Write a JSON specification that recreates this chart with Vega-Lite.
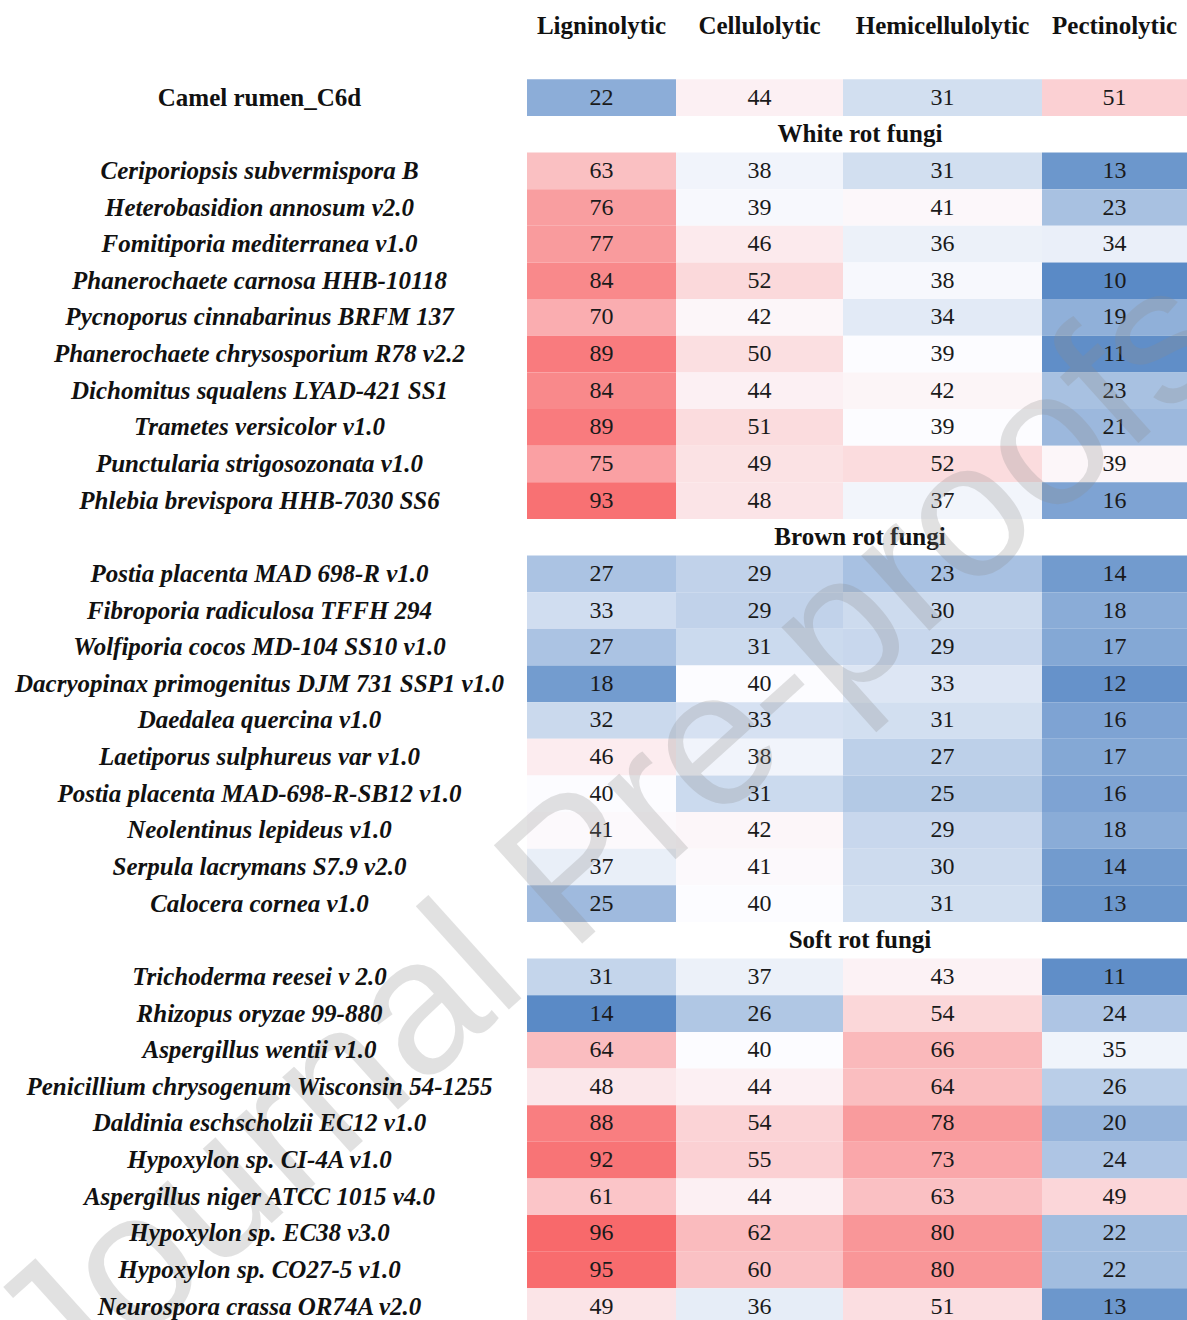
{
  "$schema": "https://vega.github.io/schema/vega-lite/v6.json",
  "autosize": {"type": "none"},
  "padding": {"left": 527, "top": 6, "right": 0, "bottom": 0},
  "width": 660,
  "height": 1319,
  "background": "white",
  "config": {"view": {"stroke": null}, "font": "Liberation Serif"},
  "datasets": {
    "cells": [
      {"name": "Camel rumen_C6d", "group": "Reference", "activity": "Ligninolytic", "value": 22},
      {"name": "Camel rumen_C6d", "group": "Reference", "activity": "Cellulolytic", "value": 44},
      {"name": "Camel rumen_C6d", "group": "Reference", "activity": "Hemicellulolytic", "value": 31},
      {"name": "Camel rumen_C6d", "group": "Reference", "activity": "Pectinolytic", "value": 51},

      {"name": "Ceriporiopsis subvermispora B", "group": "White rot fungi", "activity": "Ligninolytic", "value": 63},
      {"name": "Ceriporiopsis subvermispora B", "group": "White rot fungi", "activity": "Cellulolytic", "value": 38},
      {"name": "Ceriporiopsis subvermispora B", "group": "White rot fungi", "activity": "Hemicellulolytic", "value": 31},
      {"name": "Ceriporiopsis subvermispora B", "group": "White rot fungi", "activity": "Pectinolytic", "value": 13},
      {"name": "Heterobasidion annosum v2.0", "group": "White rot fungi", "activity": "Ligninolytic", "value": 76},
      {"name": "Heterobasidion annosum v2.0", "group": "White rot fungi", "activity": "Cellulolytic", "value": 39},
      {"name": "Heterobasidion annosum v2.0", "group": "White rot fungi", "activity": "Hemicellulolytic", "value": 41},
      {"name": "Heterobasidion annosum v2.0", "group": "White rot fungi", "activity": "Pectinolytic", "value": 23},
      {"name": "Fomitiporia mediterranea v1.0", "group": "White rot fungi", "activity": "Ligninolytic", "value": 77},
      {"name": "Fomitiporia mediterranea v1.0", "group": "White rot fungi", "activity": "Cellulolytic", "value": 46},
      {"name": "Fomitiporia mediterranea v1.0", "group": "White rot fungi", "activity": "Hemicellulolytic", "value": 36},
      {"name": "Fomitiporia mediterranea v1.0", "group": "White rot fungi", "activity": "Pectinolytic", "value": 34},
      {"name": "Phanerochaete carnosa HHB-10118", "group": "White rot fungi", "activity": "Ligninolytic", "value": 84},
      {"name": "Phanerochaete carnosa HHB-10118", "group": "White rot fungi", "activity": "Cellulolytic", "value": 52},
      {"name": "Phanerochaete carnosa HHB-10118", "group": "White rot fungi", "activity": "Hemicellulolytic", "value": 38},
      {"name": "Phanerochaete carnosa HHB-10118", "group": "White rot fungi", "activity": "Pectinolytic", "value": 10},
      {"name": "Pycnoporus cinnabarinus BRFM 137", "group": "White rot fungi", "activity": "Ligninolytic", "value": 70},
      {"name": "Pycnoporus cinnabarinus BRFM 137", "group": "White rot fungi", "activity": "Cellulolytic", "value": 42},
      {"name": "Pycnoporus cinnabarinus BRFM 137", "group": "White rot fungi", "activity": "Hemicellulolytic", "value": 34},
      {"name": "Pycnoporus cinnabarinus BRFM 137", "group": "White rot fungi", "activity": "Pectinolytic", "value": 19},
      {"name": "Phanerochaete chrysosporium R78 v2.2", "group": "White rot fungi", "activity": "Ligninolytic", "value": 89},
      {"name": "Phanerochaete chrysosporium R78 v2.2", "group": "White rot fungi", "activity": "Cellulolytic", "value": 50},
      {"name": "Phanerochaete chrysosporium R78 v2.2", "group": "White rot fungi", "activity": "Hemicellulolytic", "value": 39},
      {"name": "Phanerochaete chrysosporium R78 v2.2", "group": "White rot fungi", "activity": "Pectinolytic", "value": 11},
      {"name": "Dichomitus squalens LYAD-421 SS1", "group": "White rot fungi", "activity": "Ligninolytic", "value": 84},
      {"name": "Dichomitus squalens LYAD-421 SS1", "group": "White rot fungi", "activity": "Cellulolytic", "value": 44},
      {"name": "Dichomitus squalens LYAD-421 SS1", "group": "White rot fungi", "activity": "Hemicellulolytic", "value": 42},
      {"name": "Dichomitus squalens LYAD-421 SS1", "group": "White rot fungi", "activity": "Pectinolytic", "value": 23},
      {"name": "Trametes versicolor v1.0", "group": "White rot fungi", "activity": "Ligninolytic", "value": 89},
      {"name": "Trametes versicolor v1.0", "group": "White rot fungi", "activity": "Cellulolytic", "value": 51},
      {"name": "Trametes versicolor v1.0", "group": "White rot fungi", "activity": "Hemicellulolytic", "value": 39},
      {"name": "Trametes versicolor v1.0", "group": "White rot fungi", "activity": "Pectinolytic", "value": 21},
      {"name": "Punctularia strigosozonata v1.0", "group": "White rot fungi", "activity": "Ligninolytic", "value": 75},
      {"name": "Punctularia strigosozonata v1.0", "group": "White rot fungi", "activity": "Cellulolytic", "value": 49},
      {"name": "Punctularia strigosozonata v1.0", "group": "White rot fungi", "activity": "Hemicellulolytic", "value": 52},
      {"name": "Punctularia strigosozonata v1.0", "group": "White rot fungi", "activity": "Pectinolytic", "value": 39},
      {"name": "Phlebia brevispora HHB-7030 SS6", "group": "White rot fungi", "activity": "Ligninolytic", "value": 93},
      {"name": "Phlebia brevispora HHB-7030 SS6", "group": "White rot fungi", "activity": "Cellulolytic", "value": 48},
      {"name": "Phlebia brevispora HHB-7030 SS6", "group": "White rot fungi", "activity": "Hemicellulolytic", "value": 37},
      {"name": "Phlebia brevispora HHB-7030 SS6", "group": "White rot fungi", "activity": "Pectinolytic", "value": 16},

      {"name": "Postia placenta MAD 698-R v1.0", "group": "Brown rot fungi", "activity": "Ligninolytic", "value": 27},
      {"name": "Postia placenta MAD 698-R v1.0", "group": "Brown rot fungi", "activity": "Cellulolytic", "value": 29},
      {"name": "Postia placenta MAD 698-R v1.0", "group": "Brown rot fungi", "activity": "Hemicellulolytic", "value": 23},
      {"name": "Postia placenta MAD 698-R v1.0", "group": "Brown rot fungi", "activity": "Pectinolytic", "value": 14},
      {"name": "Fibroporia radiculosa TFFH 294", "group": "Brown rot fungi", "activity": "Ligninolytic", "value": 33},
      {"name": "Fibroporia radiculosa TFFH 294", "group": "Brown rot fungi", "activity": "Cellulolytic", "value": 29},
      {"name": "Fibroporia radiculosa TFFH 294", "group": "Brown rot fungi", "activity": "Hemicellulolytic", "value": 30},
      {"name": "Fibroporia radiculosa TFFH 294", "group": "Brown rot fungi", "activity": "Pectinolytic", "value": 18},
      {"name": "Wolfiporia cocos MD-104 SS10 v1.0", "group": "Brown rot fungi", "activity": "Ligninolytic", "value": 27},
      {"name": "Wolfiporia cocos MD-104 SS10 v1.0", "group": "Brown rot fungi", "activity": "Cellulolytic", "value": 31},
      {"name": "Wolfiporia cocos MD-104 SS10 v1.0", "group": "Brown rot fungi", "activity": "Hemicellulolytic", "value": 29},
      {"name": "Wolfiporia cocos MD-104 SS10 v1.0", "group": "Brown rot fungi", "activity": "Pectinolytic", "value": 17},
      {"name": "Dacryopinax primogenitus DJM 731 SSP1 v1.0", "group": "Brown rot fungi", "activity": "Ligninolytic", "value": 18},
      {"name": "Dacryopinax primogenitus DJM 731 SSP1 v1.0", "group": "Brown rot fungi", "activity": "Cellulolytic", "value": 40},
      {"name": "Dacryopinax primogenitus DJM 731 SSP1 v1.0", "group": "Brown rot fungi", "activity": "Hemicellulolytic", "value": 33},
      {"name": "Dacryopinax primogenitus DJM 731 SSP1 v1.0", "group": "Brown rot fungi", "activity": "Pectinolytic", "value": 12},
      {"name": "Daedalea quercina v1.0", "group": "Brown rot fungi", "activity": "Ligninolytic", "value": 32},
      {"name": "Daedalea quercina v1.0", "group": "Brown rot fungi", "activity": "Cellulolytic", "value": 33},
      {"name": "Daedalea quercina v1.0", "group": "Brown rot fungi", "activity": "Hemicellulolytic", "value": 31},
      {"name": "Daedalea quercina v1.0", "group": "Brown rot fungi", "activity": "Pectinolytic", "value": 16},
      {"name": "Laetiporus sulphureus var v1.0", "group": "Brown rot fungi", "activity": "Ligninolytic", "value": 46},
      {"name": "Laetiporus sulphureus var v1.0", "group": "Brown rot fungi", "activity": "Cellulolytic", "value": 38},
      {"name": "Laetiporus sulphureus var v1.0", "group": "Brown rot fungi", "activity": "Hemicellulolytic", "value": 27},
      {"name": "Laetiporus sulphureus var v1.0", "group": "Brown rot fungi", "activity": "Pectinolytic", "value": 17},
      {"name": "Postia placenta MAD-698-R-SB12 v1.0", "group": "Brown rot fungi", "activity": "Ligninolytic", "value": 40},
      {"name": "Postia placenta MAD-698-R-SB12 v1.0", "group": "Brown rot fungi", "activity": "Cellulolytic", "value": 31},
      {"name": "Postia placenta MAD-698-R-SB12 v1.0", "group": "Brown rot fungi", "activity": "Hemicellulolytic", "value": 25},
      {"name": "Postia placenta MAD-698-R-SB12 v1.0", "group": "Brown rot fungi", "activity": "Pectinolytic", "value": 16},
      {"name": "Neolentinus lepideus v1.0", "group": "Brown rot fungi", "activity": "Ligninolytic", "value": 41},
      {"name": "Neolentinus lepideus v1.0", "group": "Brown rot fungi", "activity": "Cellulolytic", "value": 42},
      {"name": "Neolentinus lepideus v1.0", "group": "Brown rot fungi", "activity": "Hemicellulolytic", "value": 29},
      {"name": "Neolentinus lepideus v1.0", "group": "Brown rot fungi", "activity": "Pectinolytic", "value": 18},
      {"name": "Serpula lacrymans S7.9 v2.0", "group": "Brown rot fungi", "activity": "Ligninolytic", "value": 37},
      {"name": "Serpula lacrymans S7.9 v2.0", "group": "Brown rot fungi", "activity": "Cellulolytic", "value": 41},
      {"name": "Serpula lacrymans S7.9 v2.0", "group": "Brown rot fungi", "activity": "Hemicellulolytic", "value": 30},
      {"name": "Serpula lacrymans S7.9 v2.0", "group": "Brown rot fungi", "activity": "Pectinolytic", "value": 14},
      {"name": "Calocera cornea v1.0", "group": "Brown rot fungi", "activity": "Ligninolytic", "value": 25},
      {"name": "Calocera cornea v1.0", "group": "Brown rot fungi", "activity": "Cellulolytic", "value": 40},
      {"name": "Calocera cornea v1.0", "group": "Brown rot fungi", "activity": "Hemicellulolytic", "value": 31},
      {"name": "Calocera cornea v1.0", "group": "Brown rot fungi", "activity": "Pectinolytic", "value": 13},

      {"name": "Trichoderma reesei v 2.0", "group": "Soft rot fungi", "activity": "Ligninolytic", "value": 31},
      {"name": "Trichoderma reesei v 2.0", "group": "Soft rot fungi", "activity": "Cellulolytic", "value": 37},
      {"name": "Trichoderma reesei v 2.0", "group": "Soft rot fungi", "activity": "Hemicellulolytic", "value": 43},
      {"name": "Trichoderma reesei v 2.0", "group": "Soft rot fungi", "activity": "Pectinolytic", "value": 11},
      {"name": "Rhizopus oryzae 99-880", "group": "Soft rot fungi", "activity": "Ligninolytic", "value": 14},
      {"name": "Rhizopus oryzae 99-880", "group": "Soft rot fungi", "activity": "Cellulolytic", "value": 26},
      {"name": "Rhizopus oryzae 99-880", "group": "Soft rot fungi", "activity": "Hemicellulolytic", "value": 54},
      {"name": "Rhizopus oryzae 99-880", "group": "Soft rot fungi", "activity": "Pectinolytic", "value": 24},
      {"name": "Aspergillus wentii v1.0", "group": "Soft rot fungi", "activity": "Ligninolytic", "value": 64},
      {"name": "Aspergillus wentii v1.0", "group": "Soft rot fungi", "activity": "Cellulolytic", "value": 40},
      {"name": "Aspergillus wentii v1.0", "group": "Soft rot fungi", "activity": "Hemicellulolytic", "value": 66},
      {"name": "Aspergillus wentii v1.0", "group": "Soft rot fungi", "activity": "Pectinolytic", "value": 35},
      {"name": "Penicillium chrysogenum Wisconsin 54-1255", "group": "Soft rot fungi", "activity": "Ligninolytic", "value": 48},
      {"name": "Penicillium chrysogenum Wisconsin 54-1255", "group": "Soft rot fungi", "activity": "Cellulolytic", "value": 44},
      {"name": "Penicillium chrysogenum Wisconsin 54-1255", "group": "Soft rot fungi", "activity": "Hemicellulolytic", "value": 64},
      {"name": "Penicillium chrysogenum Wisconsin 54-1255", "group": "Soft rot fungi", "activity": "Pectinolytic", "value": 26},
      {"name": "Daldinia eschscholzii EC12 v1.0", "group": "Soft rot fungi", "activity": "Ligninolytic", "value": 88},
      {"name": "Daldinia eschscholzii EC12 v1.0", "group": "Soft rot fungi", "activity": "Cellulolytic", "value": 54},
      {"name": "Daldinia eschscholzii EC12 v1.0", "group": "Soft rot fungi", "activity": "Hemicellulolytic", "value": 78},
      {"name": "Daldinia eschscholzii EC12 v1.0", "group": "Soft rot fungi", "activity": "Pectinolytic", "value": 20},
      {"name": "Hypoxylon sp. CI-4A v1.0", "group": "Soft rot fungi", "activity": "Ligninolytic", "value": 92},
      {"name": "Hypoxylon sp. CI-4A v1.0", "group": "Soft rot fungi", "activity": "Cellulolytic", "value": 55},
      {"name": "Hypoxylon sp. CI-4A v1.0", "group": "Soft rot fungi", "activity": "Hemicellulolytic", "value": 73},
      {"name": "Hypoxylon sp. CI-4A v1.0", "group": "Soft rot fungi", "activity": "Pectinolytic", "value": 24},
      {"name": "Aspergillus niger ATCC 1015 v4.0", "group": "Soft rot fungi", "activity": "Ligninolytic", "value": 61},
      {"name": "Aspergillus niger ATCC 1015 v4.0", "group": "Soft rot fungi", "activity": "Cellulolytic", "value": 44},
      {"name": "Aspergillus niger ATCC 1015 v4.0", "group": "Soft rot fungi", "activity": "Hemicellulolytic", "value": 63},
      {"name": "Aspergillus niger ATCC 1015 v4.0", "group": "Soft rot fungi", "activity": "Pectinolytic", "value": 49},
      {"name": "Hypoxylon sp. EC38 v3.0", "group": "Soft rot fungi", "activity": "Ligninolytic", "value": 96},
      {"name": "Hypoxylon sp. EC38 v3.0", "group": "Soft rot fungi", "activity": "Cellulolytic", "value": 62},
      {"name": "Hypoxylon sp. EC38 v3.0", "group": "Soft rot fungi", "activity": "Hemicellulolytic", "value": 80},
      {"name": "Hypoxylon sp. EC38 v3.0", "group": "Soft rot fungi", "activity": "Pectinolytic", "value": 22},
      {"name": "Hypoxylon sp. CO27-5 v1.0", "group": "Soft rot fungi", "activity": "Ligninolytic", "value": 95},
      {"name": "Hypoxylon sp. CO27-5 v1.0", "group": "Soft rot fungi", "activity": "Cellulolytic", "value": 60},
      {"name": "Hypoxylon sp. CO27-5 v1.0", "group": "Soft rot fungi", "activity": "Hemicellulolytic", "value": 80},
      {"name": "Hypoxylon sp. CO27-5 v1.0", "group": "Soft rot fungi", "activity": "Pectinolytic", "value": 22},
      {"name": "Neurospora crassa OR74A v2.0", "group": "Soft rot fungi", "activity": "Ligninolytic", "value": 49},
      {"name": "Neurospora crassa OR74A v2.0", "group": "Soft rot fungi", "activity": "Cellulolytic", "value": 36},
      {"name": "Neurospora crassa OR74A v2.0", "group": "Soft rot fungi", "activity": "Hemicellulolytic", "value": 51},
      {"name": "Neurospora crassa OR74A v2.0", "group": "Soft rot fungi", "activity": "Pectinolytic", "value": 13}
    ],
    "sections": [
      {"name": "White rot fungi"},
      {"name": "Brown rot fungi"},
      {"name": "Soft rot fungi"}
    ]
  },
  "data": {"name": "cells"},
  "encoding": {
    "y": {
      "field": "name",
      "type": "nominal",
      "scale": {
        "domain": [
          "Enzyme class", "spacer", "Camel rumen_C6d",
          "White rot fungi",
          "Ceriporiopsis subvermispora B", "Heterobasidion annosum v2.0", "Fomitiporia mediterranea v1.0",
          "Phanerochaete carnosa HHB-10118", "Pycnoporus cinnabarinus BRFM 137", "Phanerochaete chrysosporium R78 v2.2",
          "Dichomitus squalens LYAD-421 SS1", "Trametes versicolor v1.0", "Punctularia strigosozonata v1.0",
          "Phlebia brevispora HHB-7030 SS6",
          "Brown rot fungi",
          "Postia placenta MAD 698-R v1.0", "Fibroporia radiculosa TFFH 294", "Wolfiporia cocos MD-104 SS10 v1.0",
          "Dacryopinax primogenitus DJM 731 SSP1 v1.0", "Daedalea quercina v1.0", "Laetiporus sulphureus var v1.0",
          "Postia placenta MAD-698-R-SB12 v1.0", "Neolentinus lepideus v1.0", "Serpula lacrymans S7.9 v2.0",
          "Calocera cornea v1.0",
          "Soft rot fungi",
          "Trichoderma reesei v 2.0", "Rhizopus oryzae 99-880", "Aspergillus wentii v1.0",
          "Penicillium chrysogenum Wisconsin 54-1255", "Daldinia eschscholzii EC12 v1.0", "Hypoxylon sp. CI-4A v1.0",
          "Aspergillus niger ATCC 1015 v4.0", "Hypoxylon sp. EC38 v3.0", "Hypoxylon sp. CO27-5 v1.0",
          "Neurospora crassa OR74A v2.0"
        ],
        "paddingInner": 0,
        "paddingOuter": 0
      },
      "axis": {
        "title": null,
        "ticks": false,
        "domain": false,
        "grid": false,
        "labelAlign": "center",
        "labelBaseline": "middle",
        "labelPadding": 268,
        "labelFont": "Liberation Serif",
        "labelFontSize": 25,
        "labelFontWeight": "bold",
        "labelFontStyle": {"condition": {"test": "datum.value === 'Camel rumen_C6d'", "value": "normal"}, "value": "italic"},
        "labelColor": "#111111",
        "labelLimit": 700,
        "labelOverlap": false,
        "labelExpr": "indexof(['Enzyme class', 'spacer', 'White rot fungi', 'Brown rot fungi', 'Soft rot fungi'], datum.value) >= 0 ? '' : datum.value"
      }
    }
  },
  "layer": [
    {
      "transform": [{"filter": "datum.activity === 'Ligninolytic'"}],
      "encoding": {
        "x": {"field": "activity", "type": "nominal", "axis": null,
              "scale": {"range": [0, 149], "paddingInner": 0, "paddingOuter": 0}}
      },
      "layer": [
        {
          "mark": {"type": "rect"},
          "encoding": {
            "color": {"field": "value", "type": "quantitative", "legend": null,
                      "scale": {"domain": [14, 40, 96], "range": ["#5A8AC6", "#FCFCFF", "#F8696B"], "interpolate": "rgb"}}
          }
        },
        {
          "mark": {"type": "text", "font": "Liberation Serif", "fontSize": 24, "color": "#1a1a1a"},
          "encoding": {"text": {"field": "value", "type": "quantitative"}}
        },
        {
          "transform": [{"aggregate": [{"op": "count", "as": "n"}], "groupby": ["activity"]}],
          "mark": {"type": "text", "font": "Liberation Serif", "fontSize": 25, "fontWeight": "bold", "color": "#111111", "dy": 2},
          "encoding": {"y": {"datum": "Enzyme class"}, "text": {"field": "activity"}}
        }
      ]
    },
    {
      "transform": [{"filter": "datum.activity === 'Cellulolytic'"}],
      "encoding": {
        "x": {"field": "activity", "type": "nominal", "axis": null,
              "scale": {"range": [149, 316], "paddingInner": 0, "paddingOuter": 0}}
      },
      "layer": [
        {
          "mark": {"type": "rect"},
          "encoding": {
            "color": {"field": "value", "type": "quantitative", "legend": null,
                      "scale": {"domain": [10, 40, 90], "range": ["#5A8AC6", "#FCFCFF", "#F8696B"], "interpolate": "rgb"}}
          }
        },
        {
          "mark": {"type": "text", "font": "Liberation Serif", "fontSize": 24, "color": "#1a1a1a"},
          "encoding": {"text": {"field": "value", "type": "quantitative"}}
        },
        {
          "transform": [{"aggregate": [{"op": "count", "as": "n"}], "groupby": ["activity"]}],
          "mark": {"type": "text", "font": "Liberation Serif", "fontSize": 25, "fontWeight": "bold", "color": "#111111", "dy": 2},
          "encoding": {"y": {"datum": "Enzyme class"}, "text": {"field": "activity"}}
        }
      ]
    },
    {
      "transform": [{"filter": "datum.activity === 'Hemicellulolytic'"}],
      "encoding": {
        "x": {"field": "activity", "type": "nominal", "axis": null,
              "scale": {"range": [316, 515], "paddingInner": 0, "paddingOuter": 0}}
      },
      "layer": [
        {
          "mark": {"type": "rect"},
          "encoding": {
            "color": {"field": "value", "type": "quantitative", "legend": null,
                      "scale": {"domain": [8, 39, 98], "range": ["#5A8AC6", "#FCFCFF", "#F8696B"], "interpolate": "rgb"}}
          }
        },
        {
          "mark": {"type": "text", "font": "Liberation Serif", "fontSize": 24, "color": "#1a1a1a"},
          "encoding": {"text": {"field": "value", "type": "quantitative"}}
        },
        {
          "transform": [{"aggregate": [{"op": "count", "as": "n"}], "groupby": ["activity"]}],
          "mark": {"type": "text", "font": "Liberation Serif", "fontSize": 25, "fontWeight": "bold", "color": "#111111", "dy": 2},
          "encoding": {"y": {"datum": "Enzyme class"}, "text": {"field": "activity"}}
        }
      ]
    },
    {
      "transform": [{"filter": "datum.activity === 'Pectinolytic'"}],
      "encoding": {
        "x": {"field": "activity", "type": "nominal", "axis": null,
              "scale": {"range": [515, 660], "paddingInner": 0, "paddingOuter": 0}}
      },
      "layer": [
        {
          "mark": {"type": "rect"},
          "encoding": {
            "color": {"field": "value", "type": "quantitative", "legend": null,
                      "scale": {"domain": [10, 37, 84], "range": ["#5A8AC6", "#FCFCFF", "#F8696B"], "interpolate": "rgb"}}
          }
        },
        {
          "mark": {"type": "text", "font": "Liberation Serif", "fontSize": 24, "color": "#1a1a1a"},
          "encoding": {"text": {"field": "value", "type": "quantitative"}}
        },
        {
          "transform": [{"aggregate": [{"op": "count", "as": "n"}], "groupby": ["activity"]}],
          "mark": {"type": "text", "font": "Liberation Serif", "fontSize": 25, "fontWeight": "bold", "color": "#111111", "dy": 2},
          "encoding": {"y": {"datum": "Enzyme class"}, "text": {"field": "activity"}}
        }
      ]
    },
    {
      "data": {"name": "sections"},
      "mark": {"type": "text", "font": "Liberation Serif", "fontSize": 25, "fontWeight": "bold", "color": "#111111", "dx": 3},
      "encoding": {
        "x": {"datum": "Fungal groups", "type": "nominal", "axis": null,
              "scale": {"range": [0, 660], "paddingInner": 0, "paddingOuter": 0}},
        "text": {"field": "name"}
      }
    },
    {
      "data": {"values": [{"stamp": "Journal Pre-proofs"}]},
      "mark": {"type": "text", "font": "Liberation Sans", "fontSize": 192, "color": "#8c8c8c", "opacity": 0.25, "angle": -42, "align": "center", "baseline": "middle"},
      "encoding": {
        "x": {"datum": "stamp", "type": "nominal", "axis": null,
              "scale": {"range": [0, 168], "paddingInner": 0, "paddingOuter": 0}},
        "y": {"datum": "Neolentinus lepideus v1.0", "bandPosition": 0.75},
        "text": {"field": "stamp"}
      }
    }
  ],
  "resolve": {"scale": {"x": "independent", "color": "independent"}}
}
